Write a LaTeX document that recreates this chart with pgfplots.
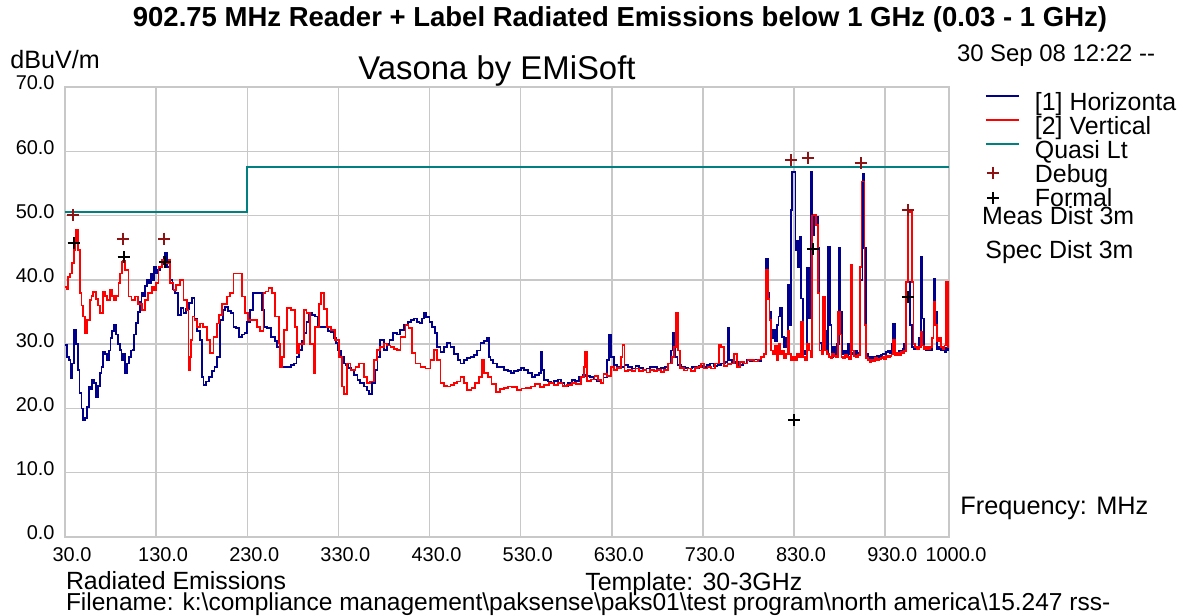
\documentclass[border=0pt]{standalone}
\usepackage{pgfplots}
\pgfplotsset{compat=1.18}
\usepackage{fontspec}
\setmainfont{Liberation Sans}
\definecolor{hblue}{RGB}{0,0,140}
\definecolor{vred}{RGB}{255,0,0}
\definecolor{qteal}{RGB}{0,128,128}
\definecolor{dbgred}{RGB}{140,20,20}
\definecolor{gridgray}{RGB}{200,200,200}
\pgfplotsset{
  lineleg/.style={legend image code/.code={\draw[##1] (0bp,4.5bp) -- (16.5bp,4.5bp);}},
  markleg/.style={legend image code/.code={\draw[##1] plot coordinates {(3.5bp,#1)};}},
}
\begin{document}
\begin{tikzpicture}
\begin{axis}[
  at={(32.5bp,39.5bp)}, anchor=south west,
  scale only axis, width=442bp, height=225bp,
  xmin=30, xmax=1000, ymin=0, ymax=70,
  xtick={30,130,230,330,430,530,630,730,830,930,1000},
  xticklabels={30.0,130.0,230.0,330.0,430.0,530.0,630.0,730.0,830.0,930.0,1000.0},
  ytick={0,10,20,30,40,50,60,70},
  yticklabels={0.0,10.0,20.0,30.0,40.0,50.0,60.0,70.0},
  grid=major,
  major grid style={draw=gridgray, line width=0.75bp},
  axis line style={draw=gridgray, line width=0.75bp},
  major tick length=0pt,
  tick label style={font=\fontsize{10}{12}\selectfont},
  xticklabel style={yshift=-1.7bp, xshift=3.5bp},
  yticklabel style={xshift=-1.7bp, yshift=2bp},
  legend style={at={(1.0407,0.9867)}, anchor=north west, draw=none, fill=none,
    inner sep=0pt, outer sep=0pt, row sep=0pt, column sep=7.5bp,
    font=\fontsize{12.5}{14}\selectfont,
    nodes={inner sep=0pt, text height=9bp, text depth=3bp}},
  legend cell align=left,
]
\addplot[const plot, color=hblue, line width=0.9bp, lineleg]
 coordinates {(30,29.9) (32,28) (34,27.5) (36,24.7) (38,27) (40,32.2) (42,30) (44,26) (46,22.4) (48,20) (50,18.2) (52,18.5) (54,20.2) (56,23.3) (58,23) (60,24.4) (62,24) (64,21.8) (66,23.5) (68,25.5) (70,26.5) (72,28.8) (74,28.5) (76,27.5) (78,29) (80,30.9) (82,32) (84,33) (86,31.5) (88,30) (90,29.1) (92,27.5) (94,28.5) (96,25.5) (98,27) (100,28) (102,29) (104,29.1) (106,31.5) (108,33.3) (110,35) (112,36.5) (114,37.9) (116,37.5) (118,39) (120,40) (122,39.5) (124,41) (126,40) (128,42) (130,41) (132,41.5) (134,42) (136,42.5) (138,43.5) (140,44.2) (142,42) (145,40) (148,38.5) (151,37.9) (154,34.5) (157,35.6) (160,34.8) (163,35.5) (166,36.4) (169,37.2) (172,34) (175,32) (178,30.6) (180,24.9) (182,23.6) (185,24.2) (188,24.9) (191,25.8) (194,26.5) (197,28) (200,33.7) (203,35.3) (206,35.8) (209,35.2) (212,34.8) (215,32.7) (218,32.5) (221,31.1) (224,31.5) (227,31.7) (230,33.5) (233,35.3) (236,37.9) (240,37.9) (244,37.9) (246,35.3) (248,32.7) (252,32.5) (256,31.1) (260,30.5) (263,29.6) (266,26.5) (270,26.5) (274,26.5) (278,26.8) (281,27) (284,28) (287,29.1) (290,30.5) (292,31.7) (295,33.5) (298,34.8) (301,34.5) (304,34.3) (308,32.7) (312,32.7) (316,32.7) (319,32) (322,31.9) (325,31) (327,30.2) (330,29) (333,28) (336,27) (338,26.7) (341,26.3) (344,26) (347,25.2) (351,24.4) (354,24) (358,23.4) (361,22.8) (364,22.3) (367,23.9) (370,26) (373,28) (376,30.6) (380,29.1) (383,30) (386,30.6) (390,31.7) (394,31.5) (398,32.2) (402,33) (406,33.5) (410,33.8) (413,34) (416,33.5) (419,33.3) (422,34) (424,34.8) (426,34.2) (430,33.5) (433,32.7) (436,31.7) (438,29.6) (442,28.8) (446,29.5) (449,30.2) (453,29.6) (457,28.5) (461,27.5) (464,27) (468,27.5) (471,27.8) (475,28) (479,28.3) (482,29) (486,30.2) (490,30.5) (493,30.9) (495,28) (497,27.5) (500,27) (504,26.5) (508,26.5) (512,26) (516,25.8) (519,25.5) (523,25.8) (527,26) (530,26.3) (534,26) (538,25.5) (542,24.9) (546,25.2) (550,25.5) (552,28.8) (554,26) (556,24.4) (560,24.2) (563,23.9) (567,24.3) (571,24.5) (574,24) (578,23.4) (582,24) (586,24.4) (590,24.3) (594,24.9) (598,25.2) (602,25) (606,24.9) (610,24.5) (614,24.2) (618,23.9) (621,24.8) (625,27.5) (627,31.4) (629,28) (632,26.7) (636,26.5) (640,26.5) (644,26.8) (648,26.5) (652,26.2) (656,26.6) (660,26.3) (664,26) (668,26.2) (672,26.5) (676,26.4) (680,26.2) (684,26.3) (688,26.5) (692,27) (695,29) (697,31.7) (699,28) (702,26.8) (706,26.5) (710,26.3) (714,26.2) (718,26.5) (722,26.3) (726,26.6) (730,26.5) (734,26.8) (738,27) (742,26.6) (746,26.8) (750,27) (754,27.2) (757,32.5) (759,27.5) (762,27) (766,27.2) (770,26.8) (774,27) (778,27.5) (782,27.3) (786,27.6) (790,27.4) (794,28) (797,28.5) (799,43.3) (801,38) (803,35) (805,31) (807,32.2) (809,30.5) (811,33) (813,34.3) (815,35.6) (817,31.1) (819,29.5) (821,31) (823,39.2) (825,33) (826.5,50.9) (828,56.8) (830,56.8) (831.5,44.6) (833,46) (834.5,42) (836,46.7) (838,37.1) (840,28.5) (842,29) (844,41.8) (846,34) (848,56.8) (850,47) (852,50) (854,49.8) (856,45) (858,30.2) (860,29) (862,34.3) (864,32) (866,28.5) (867.5,45.1) (869,33) (871,28) (873,29.5) (875,28.2) (877,30) (879,44.9) (881,35) (883,28.5) (885,29) (887,28.2) (889,30) (891,28.5) (893,28.7) (895,28.4) (897,29) (899,28.3) (901,28.6) (903,40) (905,56.5) (907,45) (909,28.5) (911,27.5) (913,28) (915,27.8) (917,28) (919,27.6) (921,28.2) (923,28) (925,28.3) (927,28.5) (929,28.4) (931,28.8) (933,29) (935,28.6) (937,30) (939,33.2) (941,28.5) (943,28.7) (945,29) (947,28.8) (949,29.2) (951,30) (953,39.7) (955,39.7) (957,33) (959,29.6) (961,29.2) (963,29.5) (965,29.3) (967,31) (969,43.6) (971,34) (973,29.5) (975,29) (977,29.3) (979,29.1) (981,31) (983,40.2) (985,35) (987,29.2) (989,29.5) (991,29) (993,29.3) (995,28.8) (997,29.4) (999,29) (1000,29)};
\addlegendentry{[1] Horizonta}
\addplot[const plot, color=vred, line width=0.9bp, lineleg]
 coordinates {(30,38.9) (32,38.5) (33.6,40.5) (35.5,41) (37.3,42.6) (39.9,44.6) (41,46) (42.1,47.7) (44,44.6) (46.5,37.9) (48,36) (49.4,34.3) (52,31.7) (54.5,33.7) (57.5,36.9) (59,37.5) (61.1,38.1) (64,37) (66,36) (68.5,34.8) (72,38.1) (74,37.5) (75.8,36.9) (79.5,38.4) (82,37.5) (84,36.9) (86,37.5) (88.6,39.5) (90,41) (92.3,42.8) (94,43) (95.9,41.5) (99.6,37.4) (103,36.9) (106.9,37.4) (110.5,36.3) (114.3,35.3) (118,36.9) (121.5,37.9) (125.3,38.9) (128,38.4) (130,39.5) (132.5,42) (136.3,43.1) (140,42.6) (143.5,43.1) (145.4,39.5) (149,38.4) (152,39.2) (156.4,40) (160,36.9) (163.7,35.3) (165.5,26) (167,28) (168.1,30.6) (170,34.3) (172,33.7) (174.7,32.7) (178,33.2) (181,32.7) (185.7,30.6) (189.3,28.6) (193,31.1) (196.7,33.2) (199,34.5) (202.2,36.3) (207.7,37.4) (211,37.9) (214.9,41) (218,41) (222.3,41) (224,37.4) (227.8,34.8) (231,33.7) (235.2,33.7) (240.7,32.7) (244,32) (247.9,37.9) (250,38.2) (253.4,38.7) (257,37.9) (260.8,34.3) (264.4,30.1) (266.3,26.5) (268,28) (269.9,32.2) (273.6,35.6) (278,35.3) (282.7,32.7) (284.6,28.6) (287,30) (291.9,35.3) (295,34.8) (299.2,30) (302.9,25.5) (304.5,32.7) (308.4,36.3) (311.3,37.9) (314,35.5) (317.6,32.7) (322,32.2) (326.7,30.6) (330.4,28) (334.1,23.4) (335.9,22.3) (339.6,27) (343.2,26) (348.7,26.5) (353,27) (357.8,24.9) (361.5,23.9) (365,24.2) (368.8,27.5) (372.5,29.1) (376,29.5) (379.8,30.1) (383,29.8) (387.1,29.6) (391,29.3) (394.5,29.1) (398.1,31.1) (403.6,33) (407,32.5) (410.9,28.6) (414.6,27) (420.1,26.5) (425.6,26.2) (431.1,27.5) (434.7,29.1) (438,27.5) (442.1,23.9) (446,23.5) (449.4,23.4) (453,23.7) (457,23.9) (460,24.2) (464,24.9) (468,24) (471.4,22.9) (476,23.2) (480,24) (484,24.9) (487.9,27.5) (490,25.5) (494,24.9) (498,23.8) (502.5,22.6) (507,23) (512,23.2) (516,23.4) (520,23.3) (526.3,22.9) (531,23.1) (536,23.2) (541,23.4) (546,23.8) (551,23.3) (556,23.6) (561,23.9) (566,23.7) (571,23.9) (576,23.5) (581,23.6) (586,24) (591,23.8) (596,24.9) (599.6,26.5) (601,28.8) (603,24.3) (607,24.5) (611,25) (615,24.4) (617.9,24) (621,25.3) (625,25) (629,26.5) (632.5,26) (636,26.3) (640,28) (641.8,29.9) (644,25.8) (648,26) (652,25.8) (656,26.2) (660,25.8) (664,26) (668,25.6) (672,26) (676,25.8) (680,26) (684,25.7) (687.5,26) (692,27) (696,28) (698.5,29.6) (700.5,34.8) (703,29) (705,26.3) (709,25.9) (713,26.2) (717,25.8) (721,26.3) (725,26.5) (727.8,27) (731,26.2) (735,26.5) (739,26.2) (743,27) (747.6,29.9) (750,29.6) (753,26.6) (757,26.9) (761,27) (764.4,28.5) (767,26.5) (771,27.2) (775,27) (779,27.5) (782.7,27.5) (786,27.3) (790,27.6) (793.7,28) (797,28.5) (799,41.5) (801,37) (803,33.7) (805,29) (807,28.5) (809,29.8) (811,27.5) (813,30) (815,28.5) (817,29) (819,27.8) (821,28.5) (823,32) (825,28.5) (827,27.5) (829,28) (831,27.5) (833,28.5) (835,28) (838,33.5) (840,28) (842,27.5) (844,30) (846,29) (848,28) (850,50) (852,50.1) (854,48.5) (856,38) (858,29) (860,28.4) (862,37.4) (864,29) (866,28.5) (868,28) (870,27.8) (872,28.5) (874,28.2) (876,28) (878,35) (880,31.5) (882,28) (884,27.8) (886,28.3) (888,28) (890,27.6) (892.6,42.3) (894,29) (896,28.2) (898,28) (900,28.3) (902,42) (904,55.3) (906,55.3) (907.3,33) (909,27.8) (911,27.5) (913,27.2) (915,27.6) (917,27.3) (919,27.8) (921,27.5) (923,27.7) (925,27.8) (927,28) (929,27.7) (931,28.2) (933,28) (935,28.2) (937,28.4) (939,30.6) (941,28.3) (943,28.6) (945,28.3) (947,28.8) (949,28.6) (951,28.9) (953,39.7) (955,50.6) (957,50.6) (959,39.7) (961,30) (963,29.6) (965,29.2) (967,29.5) (969,31.9) (971,29.8) (973,29.3) (975,29.5) (977,29.2) (979,29.6) (981,31) (983,36.6) (985,33) (987,30.5) (989,31) (991,29.5) (993,29.2) (995,29.8) (997,39.7) (999,29.5) (1000,29.5)};
\addlegendentry{[2] Vertical}
\addplot[const plot, color=qteal, line width=1bp, lineleg]
 coordinates {(30,50.5) (230,57.5) (1000,57.5)};
\addlegendentry{Quasi Lt}
\addplot[only marks, mark=+, mark size=3bp, color=dbgred, line width=1bp, markleg=2bp]
 coordinates {(39,50.1) (94.1,46.4) (138.8,46.4) (827,58.6) (845,58.9) (903,58.1) (955,50.9)};
\addlegendentry{Debug}
\addplot[only marks, mark=+, mark size=3bp, color=black, line width=1bp, markleg=1.5bp]
 coordinates {(39.4,45.7) (94.3,43.5) (139.9,42.8) (851,44.8) (955,37.4) (830.3,18.2)};
\addlegendentry{Formal}
\end{axis}
\node[anchor=base, font=\fontsize{13.8}{16}\selectfont\bfseries] at (310bp,294.5bp) {902.75 MHz Reader + Label Radiated Emissions below 1 GHz (0.03 - 1 GHz)};
\node[anchor=base west, inner sep=0pt, font=\fontsize{12.6}{14}\selectfont] at (5bp,273.5bp) {dBuV/m};
\node[anchor=base, inner sep=0pt, font=\fontsize{16.5}{18}\selectfont] at (248.5bp,268.3bp) {Vasona by EMiSoft};
\node[anchor=base west, inner sep=0pt, font=\fontsize{12}{14}\selectfont] at (478.3bp,277.2bp) {30 Sep 08 12:22 -{}-};
\node[anchor=base west, inner sep=0pt, font=\fontsize{12.5}{14}\selectfont] at (490.8bp,195.5bp) {Meas Dist 3m};
\node[anchor=base west, inner sep=0pt, font=\fontsize{12.5}{14}\selectfont] at (492.5bp,178.8bp) {Spec Dist 3m};
\node[anchor=base west, inner sep=0pt, font=\fontsize{12.7}{14}\selectfont] at (480bp,50.5bp) {Frequency: MHz};
\node[anchor=base west, inner sep=0pt, font=\fontsize{12.5}{14}\selectfont] at (32.8bp,13.5bp) {Radiated Emissions};
\node[anchor=base west, inner sep=0pt, font=\fontsize{12.5}{14}\selectfont] at (292.5bp,13bp) {Template: 30-3GHz};
\node[anchor=base west, inner sep=0pt, font=\fontsize{12.3}{14}\selectfont] at (32.8bp,3bp) {Filename: k:\textbackslash compliance management\textbackslash paksense\textbackslash paks01\textbackslash test program\textbackslash north america\textbackslash 15.247 rss-};
\pgfresetboundingbox
\useasboundingbox (0,0) rectangle (590.5bp,308bp);
\end{tikzpicture}
\end{document}
